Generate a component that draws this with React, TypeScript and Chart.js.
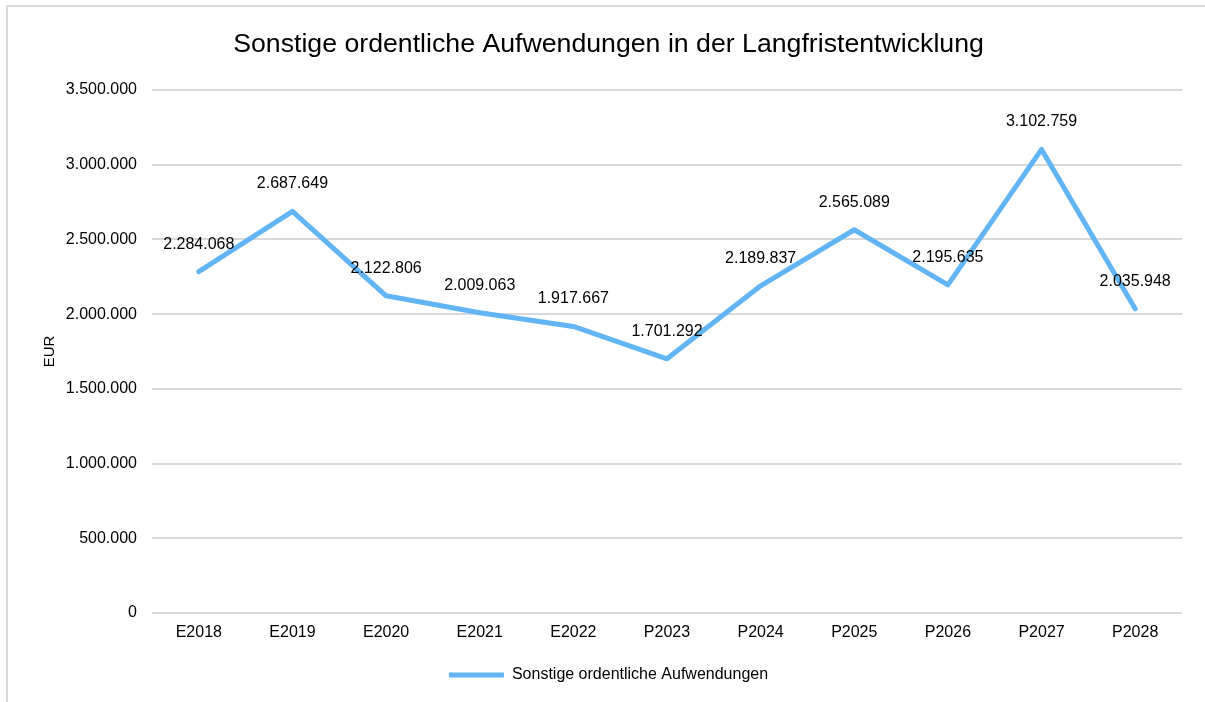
import React, { useEffect, useRef } from "react";
import { Chart, registerables } from "chart.js";

Chart.register(...registerables);

// ---- data ----
const chartTitle = "Sonstige ordentliche Aufwendungen in der Langfristentwicklung";
const seriesLabel = "Sonstige ordentliche Aufwendungen";
const yAxisTitle = "EUR";
const categories = ["E2018", "E2019", "E2020", "E2021", "E2022", "P2023", "P2024", "P2025", "P2026", "P2027", "P2028"];
const values = [2284068, 2687649, 2122806, 2009063, 1917667, 1701292, 2189837, 2565089, 2195635, 3102759, 2035948];
const yMin = 0;
const yMax = 3500000;
const yStep = 500000;

const FONT = "'Liberation Sans', Arial, sans-serif";
const LINE_COLOR = "#62B5F4";
const GRID_COLOR = "#d9d9d9";
const TEXT_COLOR = "#000000";

function formatDE(n: number): string {
  const s = Math.round(n).toString();
  return s.replace(/\B(?=(\d{3})+(?!\d))/g, ".");
}

const dataLabelPlugin = {
  id: "dataLabels",
  afterDatasetsDraw(chart: any) {
    const ctx = chart.ctx;
    chart.data.datasets.forEach((ds: any, i: number) => {
      const meta = chart.getDatasetMeta(i);
      ctx.save();
      ctx.font = `16px ${FONT}`;
      ctx.fillStyle = TEXT_COLOR;
      ctx.textAlign = "center";
      ctx.textBaseline = "middle";
      meta.data.forEach((pt: any, j: number) => {
        ctx.fillText(formatDE(ds.data[j]), pt.x, pt.y - 27.5);
      });
      ctx.restore();
    });
  },
};

export default function App() {
  const canvasRef = useRef<HTMLCanvasElement | null>(null);

  useEffect(() => {
    if (!canvasRef.current) return;
    const chart = new Chart(canvasRef.current, {
      type: "line",
      data: {
        labels: categories,
        datasets: [
          {
            label: seriesLabel,
            data: values,
            borderColor: LINE_COLOR,
            backgroundColor: LINE_COLOR,
            borderWidth: 5,
            borderCapStyle: "round",
            borderJoinStyle: "round",
            pointRadius: 0,
            pointHoverRadius: 0,
            tension: 0,
            fill: false,
          } as any,
        ],
      },
      options: {
        responsive: false,
        animation: false,
        devicePixelRatio: 1,
        layout: { padding: { left: 12, right: 0, top: 0, bottom: 9 } },
        plugins: {
          title: {
            display: true,
            text: chartTitle,
            color: TEXT_COLOR,
            font: { family: FONT, size: 26.7, weight: "normal" as any },
            padding: { top: 29, bottom: 29 },
          },
          legend: {
            display: true,
            position: "bottom",
            labels: {
              color: TEXT_COLOR,
              font: { family: FONT, size: 16 },
              usePointStyle: true,
              pointStyle: "line",
              pointStyleWidth: 55,
              padding: 10,
            },
          },
          tooltip: { enabled: false },
        },
        scales: {
          x: {
            type: "category",
            offset: true,
            grid: { display: false, drawTicks: false },
            border: { display: false },
            ticks: {
              color: TEXT_COLOR,
              font: { family: FONT, size: 16 },
              padding: 10,
              maxRotation: 0,
              autoSkip: false,
            },
            afterFit: (s: any) => {
              s.height = 44;
            },
          },
          y: {
            type: "linear",
            position: "left",
            min: yMin,
            max: yMax,
            grid: { color: GRID_COLOR, lineWidth: 2, drawTicks: false },
            border: { display: false },
            ticks: {
              stepSize: yStep,
              color: TEXT_COLOR,
              font: { family: FONT, size: 16 },
              padding: 15,
              callback: (v: any) => formatDE(Number(v)),
            },
            title: {
              display: true,
              text: yAxisTitle,
              color: TEXT_COLOR,
              font: { family: FONT, size: 15 },
              padding: { top: 29, bottom: 0 },
            },
            afterFit: (s: any) => {
              s.width = 140;
            },
          },
          yRight: {
            type: "linear",
            position: "right",
            display: true,
            grid: { display: false, drawTicks: false },
            border: { display: false },
            ticks: { display: false },
            afterFit: (s: any) => {
              s.width = 23;
            },
          },
        },
      },
      plugins: [dataLabelPlugin],
    });
    return () => chart.destroy();
  }, []);

  return (
    <div>
      <div
        style={{
          position: "fixed",
          left: 6,
          top: 5,
          width: 1205,
          height: 702,
          borderTop: `2px solid ${GRID_COLOR}`,
          borderLeft: `2px solid ${GRID_COLOR}`,
          boxSizing: "border-box",
        }}
      />
      <canvas
        ref={canvasRef}
        width={1205}
        height={702}
        style={{ position: "fixed", left: 0, top: 0, width: 1205, height: 702 }}
      />
    </div>
  );
}
